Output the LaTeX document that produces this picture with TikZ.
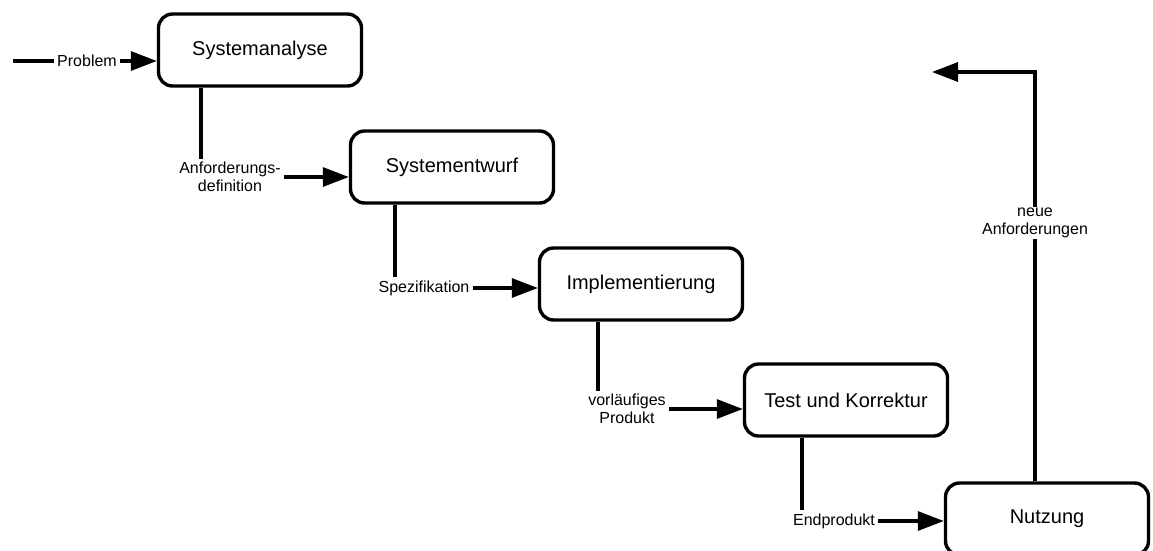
\documentclass[tikz,border=0pt]{standalone}
\usepackage{fontspec}
\setmainfont{Liberation Sans}
\usetikzlibrary{arrows.meta}
\begin{document}
\begin{tikzpicture}[x=1pt,y=-1pt,
  phase/.style={draw, line width=3.4pt, rounded corners=14pt, fill=white,
    minimum width=203pt, minimum height=72pt, inner sep=0pt,
    font=\fontsize{20}{24}\selectfont},
  flowlabel/.style={align=center, inner sep=3pt,
    font=\fontsize{16}{18.4}\selectfont},
  link/.style={line width=3.2pt},
  flow/.style={line width=3.2pt, -{Triangle[length=26pt,width=19pt]}}]
\fill[white] (0,0) rectangle (1153,550);
\useasboundingbox (0,0) rectangle (1153,550);

% phases
\node[phase] (sa) at (260,50)  {Systemanalyse};
\node[phase] (se) at (452,167) {Systementwurf};
\node[phase] (im) at (641,284) {Implementierung};
\node[phase] (tk) at (846,400) {Test und Korrektur};
\node[phase] (nu) at (1047,519) {Nutzung};

% labels on the transitions
\node[flowlabel] (p0) at (87,61)   {Problem};
\node[flowlabel] (p1) at (230,177) {Anforderungs-\\definition};
\node[flowlabel] (p2) at (424,288) {Spezifikation};
\node[flowlabel] (p3) at (627,409) {vorläufiges\\Produkt};
\node[flowlabel] (p4) at (834,521) {Endprodukt};

% x positions of the drops below each phase
\coordinate (start) at (13,61);
\coordinate (d1) at (201,0);
\coordinate (d2) at (395,0);
\coordinate (d3) at (598,0);
\coordinate (d4) at (802,0);
\coordinate (up) at (1035,0);
\coordinate (back) at (932,72);

% input
\draw[link] (start) -- (p0.west);
\draw[flow] (p0.east) -- (p0.east -| sa.west);

% phase to phase
\draw[link] (d1 |- sa.south) -- (d1 |- p1.north);
\draw[flow] (p1.east) -- (p1.east -| se.west);
\draw[link] (d2 |- se.south) -- (d2 |- p2.north);
\draw[flow] (p2.east) -- (p2.east -| im.west);
\draw[link] (d3 |- im.south) -- (d3 |- p3.north);
\draw[flow] (p3.east) -- (p3.east -| tk.west);
\draw[link] (d4 |- tk.south) -- (d4 |- p4.north);
\draw[flow] (p4.east) -- (p4.east -| nu.west);

% feedback loop
\draw[flow] (up |- nu.north) -- (up |- back) -- (back);
\node[flowlabel, fill=white, inner sep=1pt] (p5) at (1035,223) {neue\\Anforderungen};
\end{tikzpicture}
\end{document}
